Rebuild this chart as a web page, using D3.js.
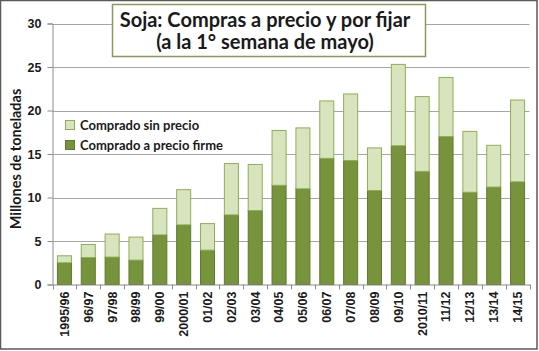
<!DOCTYPE html>
<html>
<head>
<meta charset="utf-8">
<script src="https://cdn.jsdelivr.net/npm/d3@7"></script>
<style>
  html, body { margin: 0; padding: 0; background: #fff; }
  svg { display: block; font-family: Lato, "DejaVu Sans", sans-serif; }
  .tick-label { font-size: 12.5px; font-weight: 700; fill: #1a1a1a; }
  .legend-text { font-size: 13px; font-weight: 700; fill: #1a1a1a; }
</style>
</head>
<body>
<div id="chart"></div>
<script>
const CAMPAIGNS = [
  "1995/96", "96/97", "97/98", "98/99", "99/00", "2000/01", "01/02", "02/03",
  "03/04", "04/05", "05/06", "06/07", "07/08", "08/09", "09/10", "2010/11",
  "11/12", "12/13", "13/14", "14/15"
];
// Comprado a precio firme (millones de toneladas)
const PRECIO_FIRME = [
  2.5, 3.1, 3.15, 2.8, 5.7, 6.85, 3.95, 8.0, 8.5, 11.4,
  11.0, 14.5, 14.25, 10.8, 15.95, 13.0, 17.0, 10.6, 11.2, 11.8
];
// Total comprado (firme + sin precio)
const TOTAL = [
  3.3, 4.6, 5.8, 5.45, 8.75, 10.9, 7.0, 13.9, 13.8, 17.7,
  18.0, 21.1, 21.9, 15.7, 25.3, 21.6, 23.8, 17.6, 16.0, 21.2
];
const SIN_PRECIO = TOTAL.map((t, i) => +(t - PRECIO_FIRME[i]).toFixed(2));
const Y_TICKS = [0, 5, 10, 15, 20, 25, 30];

const SERIES = [
  { key: "firme", label: "Comprado a precio firme", values: PRECIO_FIRME, fill: "#77933c", stroke: "#5f7a2c" },
  { key: "sin", label: "Comprado sin precio", values: SIN_PRECIO, fill: "#d7e4bd", stroke: "#8fae56" }
];

const width = 539, height = 351;
const plot = { left: 52.5, right: 529.5, top: 23.5, bottom: 284.5 };

const svg = d3.select("#chart").append("svg")
  .attr("width", width)
  .attr("height", height);

svg.append("rect")
  .attr("x", 0.5).attr("y", 0.5)
  .attr("width", width - 2.5).attr("height", height - 2.5)
  .attr("fill", "#fff")
  .attr("stroke", "#5a5a5a")
  .attr("stroke-width", 1.5);

const x = d3.scaleBand()
  .domain(CAMPAIGNS)
  .range([plot.left, plot.right])
  .paddingInner(0.37)
  .paddingOuter(0.185);

const y = d3.scaleLinear().domain([0, 30]).range([plot.bottom, plot.top]);

// gridlines
svg.append("g")
  .selectAll("line")
  .data(Y_TICKS.filter(d => d > 0))
  .join("line")
  .attr("x1", plot.left).attr("x2", plot.right)
  .attr("y1", d => Math.round(y(d)) + 0.5).attr("y2", d => Math.round(y(d)) + 0.5)
  .attr("stroke", "#a6a6a6");

// y axis
const yAxis = svg.append("g")
  .attr("transform", `translate(${plot.left},0)`)
  .call(d3.axisLeft(y).tickValues(Y_TICKS).tickSize(5).tickPadding(6));
yAxis.select(".domain").attr("stroke", "#8c8c8c");
yAxis.selectAll(".tick line").attr("stroke", "#8c8c8c");
yAxis.selectAll(".tick text").attr("class", "tick-label").attr("font-family", null).attr("font-size", null);

// stacked bars
const stacked = d3.stack()
  .keys(SERIES.map(s => s.key))(CAMPAIGNS.map((c, i) => ({
    campaign: c, firme: PRECIO_FIRME[i], sin: SIN_PRECIO[i]
  })));

stacked.forEach((layer, li) => {
  const s = SERIES[li];
  svg.append("g")
    .selectAll("rect")
    .data(layer)
    .join("rect")
    .attr("x", d => x(d.data.campaign) + 0.5)
    .attr("y", d => y(d[1]))
    .attr("width", x.bandwidth() - 1)
    .attr("height", d => y(d[0]) - y(d[1]))
    .attr("fill", s.fill)
    .attr("stroke", s.stroke)
    .attr("stroke-width", 1);
});

// x axis
const xAxis = svg.append("g")
  .attr("transform", `translate(0,${plot.bottom})`)
  .call(d3.axisBottom(x).tickSize(0).tickPadding(0));
xAxis.select(".domain").attr("stroke", "#8c8c8c");
xAxis.selectAll(".tick text")
  .attr("class", "tick-label")
  .attr("font-family", null).attr("font-size", null)
  .attr("transform", "rotate(-90)")
  .attr("text-anchor", "end")
  .attr("x", -7)
  .attr("y", 0)
  .attr("dy", "0.35em");

// category boundary ticks
const boundaries = d3.range(CAMPAIGNS.length + 1).map(i => plot.left + i * x.step());
svg.append("g")
  .selectAll("line")
  .data(boundaries)
  .join("line")
  .attr("x1", d => Math.round(d) + 0.5).attr("x2", d => Math.round(d) + 0.5)
  .attr("y1", plot.bottom).attr("y2", plot.bottom + 5)
  .attr("stroke", "#8c8c8c");

// y axis title
svg.append("text")
  .attr("transform", `translate(21,${(plot.top + plot.bottom) / 2 + 5}) rotate(-90)`)
  .attr("text-anchor", "middle")
  .attr("font-size", 14.5)
  .attr("font-weight", 700)
  .attr("fill", "#1a1a1a")
  .text("Millones de toneladas");

// legend
const legendItems = [SERIES[1], SERIES[0]];
const legend = svg.append("g").attr("transform", "translate(65,120)");
legendItems.forEach((s, i) => {
  const g = legend.append("g").attr("transform", `translate(0,${i * 20})`);
  g.append("rect")
    .attr("x", 0.5).attr("y", 0.5)
    .attr("width", 9).attr("height", 9)
    .attr("fill", s.fill).attr("stroke", s.stroke);
  g.append("text")
    .attr("class", "legend-text")
    .attr("x", 15).attr("y", 9.5)
    .text(s.label);
});

// title box
svg.append("rect")
  .attr("x", 112.5).attr("y", 4.5)
  .attr("width", 313).attr("height", 52)
  .attr("fill", "#fff")
  .attr("stroke", "#8a9a5b")
  .attr("stroke-width", 1.5);

const title = svg.append("text")
  .attr("text-anchor", "middle")
  .attr("font-size", 20)
  .attr("font-weight", 700)
  .attr("fill", "#1a1a1a");
title.append("tspan").attr("x", 265).attr("y", 27).text("Soja: Compras a precio y por fijar");
title.append("tspan").attr("x", 265).attr("y", 49).text("(a la 1° semana de mayo)");
</script>
</body>
</html>
